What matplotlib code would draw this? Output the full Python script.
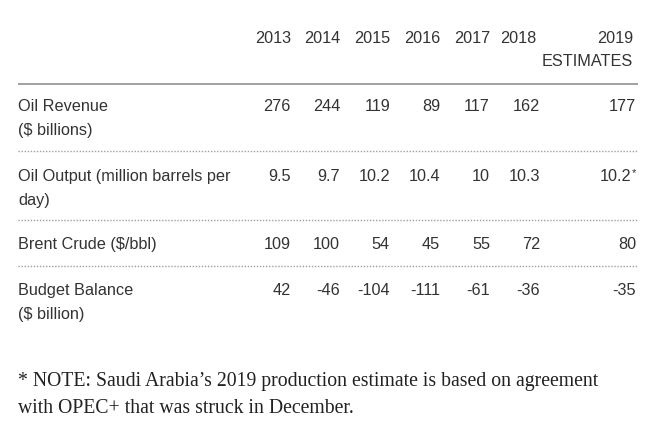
import matplotlib
matplotlib.use("Agg")
import matplotlib.pyplot as plt

# ---- data ----
years = ["2013", "2014", "2015", "2016", "2017", "2018", "2019"]
last_header_sub = "ESTIMATES"
row_labels = [
    ["Oil Revenue", "($ billions)"],
    ["Oil Output (million barrels per", "day)"],
    ["Brent Crude ($/bbl)"],
    ["Budget Balance", "($ billion)"],
]
oil_revenue = [276, 244, 119, 89, 117, 162, 177]
oil_output = [9.5, 9.7, 10.2, 10.4, 10, 10.3, 10.2]
brent_crude = [109, 100, 54, 45, 55, 72, 80]
budget_balance = [42, -46, -104, -111, -61, -36, -35]
footnote_marks = ["", "*", "", ""]  # marker on the 2019 estimate of each row
note_lines = ["* NOTE: Saudi Arabia\u2019s 2019 production estimate is based on agreement",
              "with OPEC+ that was struck in December."]

rows = [oil_revenue, oil_output, brent_crude, budget_balance]

# ---- layout ----
W, H = 650, 429
fig = plt.figure(figsize=(W / 100, H / 100), dpi=100)
ax = fig.add_axes([0, 0, 1, 1])
ax.set_xlim(0, W)
ax.set_ylim(H, 0)
ax.axis("off")

sans = ["Liberation Sans", "DejaVu Sans"]
serif = ["Liberation Serif", "DejaVu Serif"]
txt_color = "#333333"
fs = 11.7

left = 18
right = 638
header_x = [291, 340, 390, 440, 490, 536, 633]
value_x = [291, 340, 390, 440, 490, 540, 636]
header_y = 37
sub_y = 60
rule_y = 84
row_first_y = [105, 175, 243, 289]
line_gap = 23.5
sep_y = [151, 220, 266]

for x, yr in zip(header_x, years):
    ax.text(x, header_y, yr, ha="right", va="center_baseline", fontsize=fs,
            color=txt_color, family=sans)
ax.text(header_x[-1], sub_y, last_header_sub, ha="right", va="center_baseline",
        fontsize=fs, color=txt_color, family=sans)

ax.plot([left, right], [rule_y, rule_y], color="#9a9a9a", lw=1.3,
        solid_capstyle="butt")

def fmt(v):
    return f"{v:g}"

for lines, vals, y, mark in zip(row_labels, rows, row_first_y, footnote_marks):
    for k, line in enumerate(lines):
        ax.text(left, y + k * line_gap, line, ha="left", va="center_baseline",
                fontsize=fs, color=txt_color, family=sans)
    for i, (x, v) in enumerate(zip(value_x, vals)):
        if i == len(vals) - 1 and mark:
            ax.text(x - 4.5, y, fmt(v), ha="right", va="center_baseline",
                    fontsize=fs, color=txt_color, family=sans)
            ax.text(x, y - 3, mark, ha="right", va="center_baseline",
                    fontsize=fs * 0.7, color=txt_color, family=sans)
        else:
            ax.text(x, y, fmt(v), ha="right", va="center_baseline",
                    fontsize=fs, color=txt_color, family=sans)

for y in sep_y:
    ax.plot([left, right], [y, y], color="#a0a0a0", lw=1.0,
            linestyle=(0, (1.0, 1.2)))

for k, line in enumerate(note_lines):
    ax.text(left, 379 + k * 27, line, ha="left", va="center_baseline",
            fontsize=14.2, color="#222222", family=serif)

fig.savefig("out.png", dpi=100, facecolor="white")
